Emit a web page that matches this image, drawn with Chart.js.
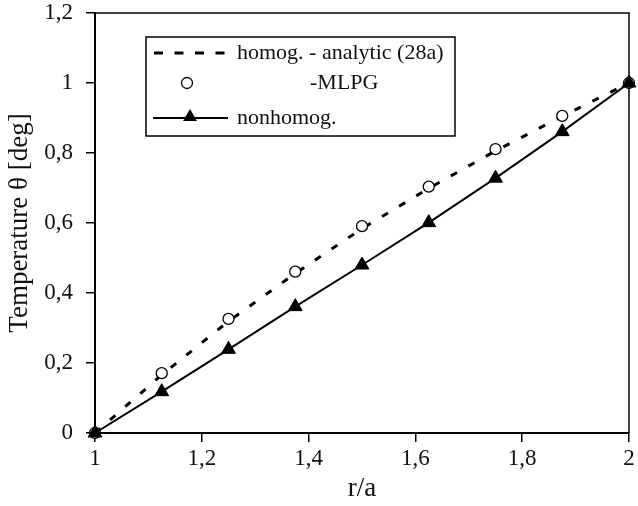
<!DOCTYPE html>
<html>
<head>
<meta charset="utf-8">
<script src="https://cdn.jsdelivr.net/npm/chart.js@4/dist/chart.umd.min.js"></script>
<style>
html,body{margin:0;padding:0;background:#fff;}
#wrap{width:638px;height:506px;}
</style>
</head>
<body>
<div id="wrap"><canvas id="c" width="638" height="506"></canvas></div>
<script>
// r/a positions
const rA = [1, 1.125, 1.25, 1.375, 1.5, 1.625, 1.75, 1.875, 2];
// homogeneous - analytic (28a), dashed line
const analytic = [0, 0.166, 0.319, 0.456, 0.584, 0.699, 0.806, 0.905, 1.0];
// homogeneous - MLPG, open circles
const mlpg = [0, 0.171, 0.326, 0.461, 0.591, 0.704, 0.811, 0.906, 1.0];
// nonhomogeneous, solid line with triangles
const nonhomog = [0, 0.118, 0.239, 0.361, 0.480, 0.601, 0.728, 0.861, 1.0];

const xTickValues = [1, 1.2, 1.4, 1.6, 1.8, 2];
const xTickLabels = ['1', '1,2', '1,4', '1,6', '1,8', '2'];
const yTickValues = [0, 0.2, 0.4, 0.6, 0.8, 1, 1.2];
const yTickLabels = ['0', '0,2', '0,4', '0,6', '0,8', '1', '1,2'];

const legendLabels = ['homog. - analytic (28a)', '-MLPG', 'nonhomog.'];
const xTitle = 'r/a';
const yTitle = 'Temperature \u03b8 [deg]';

const FONT = "'Liberation Serif', 'Times New Roman', serif";

function pts(ys){ return rA.map((x,i)=>({x:x, y:ys[i]})); }
function labelFor(vals, labels, v){
  for (let i=0;i<vals.length;i++){ if (Math.abs(vals[i]-v) < 1e-6) return labels[i]; }
  return '';
}

const framePlugin = {
  id: 'frame',
  afterDatasetsDraw(chart){
    const {ctx, chartArea:a} = chart;
    ctx.save();
    ctx.strokeStyle = '#000';
    ctx.lineWidth = 1.5;
    ctx.beginPath();
    ctx.moveTo(a.left, a.top); ctx.lineTo(a.right, a.top); ctx.lineTo(a.right, a.bottom);
    ctx.stroke();
    ctx.restore();
  },
  afterDraw(chart){
    const ctx = chart.ctx;
    ctx.save();
    // legend box
    ctx.fillStyle = '#fff';
    ctx.fillRect(146, 37, 309, 99);
    ctx.strokeStyle = '#000';
    ctx.lineWidth = 1.5;
    ctx.strokeRect(146, 37, 309, 99);
    // row 1: dashed
    ctx.lineWidth = 3;
    ctx.setLineDash([9, 11.5]);
    ctx.beginPath(); ctx.moveTo(154, 53); ctx.lineTo(228, 53); ctx.stroke();
    ctx.setLineDash([]);
    // row 2: circle
    ctx.lineWidth = 1.3;
    ctx.beginPath(); ctx.arc(187, 83, 5.5, 0, Math.PI*2); ctx.fillStyle='#fff'; ctx.fill(); ctx.stroke();
    // row 3: line + triangle
    ctx.lineWidth = 2;
    ctx.beginPath(); ctx.moveTo(153, 118); ctx.lineTo(228, 118); ctx.stroke();
    const r = 8, cx = 190, cy = 117;
    ctx.beginPath();
    ctx.moveTo(cx, cy - r);
    ctx.lineTo(cx + r*Math.sin(Math.PI/3), cy + r*Math.cos(Math.PI/3));
    ctx.lineTo(cx - r*Math.sin(Math.PI/3), cy + r*Math.cos(Math.PI/3));
    ctx.closePath();
    ctx.fillStyle = '#000'; ctx.fill();
    // texts
    ctx.fillStyle = '#111';
    ctx.font = "22px " + FONT;
    ctx.textBaseline = 'middle';
    ctx.textAlign = 'left';
    ctx.fillText(legendLabels[0], 237, 53);
    ctx.fillText(legendLabels[1], 310, 83);
    ctx.fillText(legendLabels[2], 237, 118);
    ctx.restore();
  }
};

new Chart(document.getElementById('c'), {
  type: 'scatter',
  data: {
    datasets: [
      {
        label: legendLabels[2],
        data: pts(nonhomog),
        showLine: true,
        borderColor: '#000',
        backgroundColor: '#000',
        borderWidth: 2,
        pointStyle: 'triangle',
        pointRadius: 8,
        pointBorderWidth: 1,
        order: 0,
        clip: false
      },
      {
        label: legendLabels[1],
        data: pts(mlpg),
        showLine: false,
        borderColor: '#000',
        backgroundColor: '#fff',
        pointStyle: 'circle',
        pointRadius: 5.5,
        pointBorderWidth: 1.3,
        order: 1,
        clip: false
      },
      {
        label: legendLabels[0],
        data: pts(analytic),
        showLine: true,
        borderColor: '#000',
        borderWidth: 3,
        borderDash: [7, 13],
        pointRadius: 0,
        order: 2,
        clip: false
      }
    ]
  },
  options: {
    responsive: false,
    animation: false,
    events: [],
    layout: { padding: { top: 13, right: 5, left: 0, bottom: 0 } },
    plugins: { legend: { display: false }, tooltip: { enabled: false } },
    scales: {
      x: {
        type: 'linear', min: 1, max: 2,
        afterBuildTicks(scale){ scale.ticks = xTickValues.map(v=>({value:v})); },
        afterFit(scale){ scale.height = 73; scale.paddingLeft = 0; scale.paddingRight = 0; },
        ticks: {
          color: '#111', font: { family: FONT, size: 23 }, padding: 3, maxRotation: 0, autoSkip: false,
          callback: (v)=>labelFor(xTickValues, xTickLabels, v)
        },
        grid: { drawOnChartArea: false, drawTicks: true, tickLength: 9, color: '#000', lineWidth: 1.5 },
        border: { display: true, color: '#000', width: 2 },
        title: { display: true, text: xTitle, color: '#111', font: { family: FONT, size: 27 }, padding: { top: 0, bottom: 1 } }
      },
      y: {
        type: 'linear', min: 0, max: 1.2,
        afterBuildTicks(scale){ scale.ticks = yTickValues.map(v=>({value:v})); },
        afterFit(scale){ scale.width = 95; scale.paddingTop = 0; scale.paddingBottom = 0; },
        ticks: {
          color: '#111', font: { family: FONT, size: 23 }, padding: 13, autoSkip: false,
          callback: (v)=>labelFor(yTickValues, yTickLabels, v)
        },
        grid: { drawOnChartArea: false, drawTicks: true, tickLength: 9, color: '#000', lineWidth: 1.5 },
        border: { display: true, color: '#000', width: 2 },
        title: { display: true, text: yTitle, color: '#111', font: { family: FONT, size: 27 }, padding: { top: 4, bottom: 0 } }
      }
    }
  },
  plugins: [framePlugin]
});
</script>
</body>
</html>
